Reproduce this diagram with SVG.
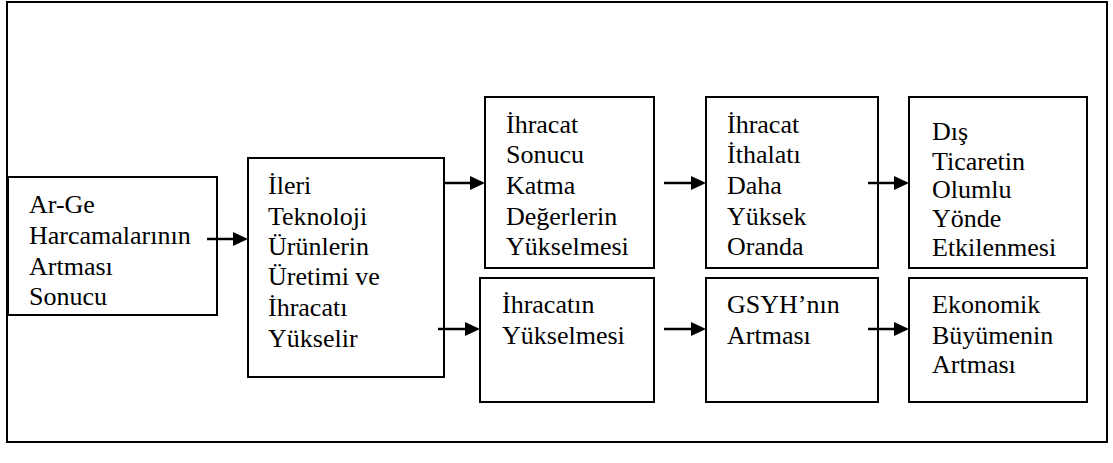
<svg xmlns="http://www.w3.org/2000/svg" width="1113" height="463" viewBox="0 0 1113 463">
<style>
.box{fill:#fff;stroke:#000;stroke-width:2}
.frame{fill:none;stroke:#000;stroke-width:2}
.c{stroke:#000;stroke-width:2.5;fill:none}
.h{fill:#000;stroke:none}
text{font-family:'Liberation Serif','Times New Roman',serif !important;font-size:26px;fill:#000}
</style>
<rect class="frame" x="7" y="2" width="1100" height="440"/>
<g id="n1"><rect class="box" x="8" y="177" width="209" height="138"/>
<text x="29" y="213" style="font-family:'Liberation Serif',serif !important">Ar-Ge</text>
<text x="29" y="244" style="font-family:'Liberation Serif',serif !important">Harcamalarının</text>
<text x="29" y="275" style="font-family:'Liberation Serif',serif !important">Artması</text>
<text x="29" y="305" style="font-family:'Liberation Serif',serif !important">Sonucu</text></g>
<g id="n2"><rect class="box" x="248" y="158" width="196" height="219"/>
<text x="268" y="194" style="font-family:'Liberation Serif',serif !important">İleri</text>
<text x="268" y="225" style="font-family:'Liberation Serif',serif !important">Teknoloji</text>
<text x="268" y="255" style="font-family:'Liberation Serif',serif !important">Ürünlerin</text>
<text x="268" y="285" style="font-family:'Liberation Serif',serif !important">Üretimi ve</text>
<text x="268" y="316" style="font-family:'Liberation Serif',serif !important">İhracatı</text>
<text x="268" y="347" style="font-family:'Liberation Serif',serif !important">Yükselir</text></g>
<g id="n3"><rect class="box" x="485" y="97" width="169" height="171"/>
<text x="506" y="133" style="font-family:'Liberation Serif',serif !important">İhracat</text>
<text x="506" y="163" style="font-family:'Liberation Serif',serif !important">Sonucu</text>
<text x="506" y="194" style="font-family:'Liberation Serif',serif !important">Katma</text>
<text x="506" y="225" style="font-family:'Liberation Serif',serif !important">Değerlerin</text>
<text x="506" y="255" style="font-family:'Liberation Serif',serif !important">Yükselmesi</text></g>
<g id="n4"><rect class="box" x="480" y="278" width="174" height="124"/>
<text x="502" y="313" style="font-family:'Liberation Serif',serif !important">İhracatın</text>
<text x="502" y="344" style="font-family:'Liberation Serif',serif !important">Yükselmesi</text></g>
<g id="n5"><rect class="box" x="706" y="97" width="172" height="171"/>
<text x="727" y="133" style="font-family:'Liberation Serif',serif !important">İhracat</text>
<text x="727" y="163" style="font-family:'Liberation Serif',serif !important">İthalatı</text>
<text x="727" y="194" style="font-family:'Liberation Serif',serif !important">Daha</text>
<text x="727" y="225" style="font-family:'Liberation Serif',serif !important">Yüksek</text>
<text x="727" y="255" style="font-family:'Liberation Serif',serif !important">Oranda</text></g>
<g id="n6"><rect class="box" x="706" y="278" width="172" height="124"/>
<text x="727" y="313" style="font-family:'Liberation Serif',serif !important">GSYH’nın</text>
<text x="727" y="344" style="font-family:'Liberation Serif',serif !important">Artması</text></g>
<g id="n7"><rect class="box" x="909" y="97" width="178" height="171"/>
<text x="932" y="140" style="font-family:'Liberation Serif',serif !important">Dış</text>
<text x="932" y="170" style="font-family:'Liberation Serif',serif !important">Ticaretin</text>
<text x="932" y="198" style="font-family:'Liberation Serif',serif !important">Olumlu</text>
<text x="932" y="227" style="font-family:'Liberation Serif',serif !important">Yönde</text>
<text x="932" y="256" style="font-family:'Liberation Serif',serif !important">Etkilenmesi</text></g>
<g id="n8"><rect class="box" x="909" y="278" width="178" height="124"/>
<text x="932" y="313" style="font-family:'Liberation Serif',serif !important">Ekonomik</text>
<text x="932" y="344" style="font-family:'Liberation Serif',serif !important">Büyümenin</text>
<text x="932" y="373" style="font-family:'Liberation Serif',serif !important">Artması</text></g>
<g id="connectors">
<line class="c" x1="207" y1="239" x2="235" y2="239"/><path class="h" d="M233,232 L248,239 L233,246 z"/>
<line class="c" x1="443" y1="183" x2="472" y2="183"/><path class="h" d="M470,176 L485,183 L470,190 z"/>
<line class="c" x1="438" y1="329" x2="467" y2="329"/><path class="h" d="M465,322 L480,329 L465,336 z"/>
<line class="c" x1="664" y1="183" x2="693" y2="183"/><path class="h" d="M691,176 L706,183 L691,190 z"/>
<line class="c" x1="664" y1="329" x2="693" y2="329"/><path class="h" d="M691,322 L706,329 L691,336 z"/>
<line class="c" x1="868" y1="183" x2="896" y2="183"/><path class="h" d="M894,176 L909,183 L894,190 z"/>
<line class="c" x1="868" y1="329" x2="896" y2="329"/><path class="h" d="M894,322 L909,329 L894,336 z"/>
</g>
</svg>
